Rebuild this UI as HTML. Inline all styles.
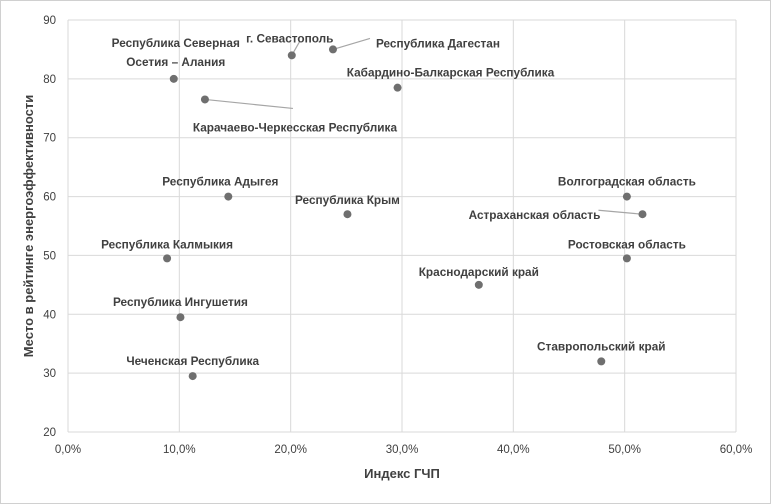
<!DOCTYPE html>
<html><head><meta charset="utf-8"><style>
html,body{margin:0;padding:0;background:#fff;}
svg{display:block;font-family:"Liberation Sans","DejaVu Sans",sans-serif;}
</style></head><body>
<svg id="chart" width="771" height="504" viewBox="0 0 771 504">
<rect x="0.5" y="0.5" width="770" height="503" fill="#fff" stroke="#d0d0d0"/>
<g id="grid"></g>
<g id="ticks"></g>
<g id="leaders"></g>
<g id="points"></g>
<g id="labels"></g>
<text x="402" y="478" text-anchor="middle" font-size="13" font-weight="bold" fill="#404040">Индекс ГЧП</text>
<text transform="translate(33,226) rotate(-90)" text-anchor="middle" font-size="13" font-weight="bold" fill="#404040">Место в рейтинге энергоэффективности</text>
</svg>
<script>
const regions=["Республика Северная|Осетия – Алания","Карачаево-Черкесская Республика","г. Севастополь","Республика Дагестан","Кабардино-Балкарская Республика","Республика Адыгея","Республика Крым","Республика Калмыкия","Республика Ингушетия","Чеченская Республика","Краснодарский край","Волгоградская область","Астраханская область","Ростовская область","Ставропольский край"];
const gchp=[9.5,12.3,20.1,23.8,29.6,14.4,25.1,8.9,10.1,11.2,36.9,50.2,51.6,50.2,47.9];
const rank=[80,76.5,84,85,78.5,60,57,49.5,39.5,29.5,45,60,57,49.5,32];
const xTicks=[0,10,20,30,40,50,60];
const yTicks=[20,30,40,50,60,70,80,90];
// label layout (offsets from point, in px) and leader lines
const labelOff=[[2,-37],[90,24],[-2,-21],[105,-10],[53,-19],[-8,-19],[0,-18],[0,-18],[0,-19],[0,-19],[0,-17],[0,-19],[-108,-3],[0,-18],[0,-19]];
const leaderOff={1:[88,9],2:[8,-14],3:[37,-11],12:[-44,-4]};
const X0=68,X1=736,Y0=432,Y1=20;
const xS=v=>X0+(v-0)/60*(X1-X0);
const yS=v=>Y0-(v-20)/70*(Y0-Y1);
const NS="http://www.w3.org/2000/svg";
function mk(t,a,p){const e=document.createElementNS(NS,t);for(const k in a)e.setAttribute(k,a[k]);p.appendChild(e);return e;}
const grid=document.getElementById('grid'),ticks=document.getElementById('ticks');
xTicks.forEach(t=>{const l=mk('line',{x1:xS(t),x2:xS(t),y1:Y1,y2:Y0,stroke:'#d9d9d9'},grid);

const tx=mk('text',{x:xS(t),y:Y0+21,'text-anchor':'middle','font-size':'11.5',fill:'#404040'},ticks);
tx.textContent=t.toFixed(1).replace('.',',')+'%';
});
yTicks.forEach(t=>{const l=mk('line',{x1:X0,x2:X1,y1:yS(t),y2:yS(t),stroke:'#d9d9d9'},grid);

const tx=mk('text',{x:X0-12,y:yS(t)+4,'text-anchor':'end','font-size':'11.5',fill:'#404040'},ticks);
tx.textContent=t;
});
const P=document.getElementById('points'),L=document.getElementById('labels'),LD=document.getElementById('leaders');
regions.forEach((r,i)=>{const px=xS(gchp[i]),py=yS(rank[i]);
if(leaderOff[i]){const o=leaderOff[i];const ln=mk('line',{x1:px,y1:py,x2:px+o[0],y2:py+o[1],stroke:'#a6a6a6','stroke-width':'1.2'},LD);
}
const c=mk('circle',{cx:px,cy:py,r:4,fill:'#6f6f6f'},P);

const lines=r.split('|');const o=labelOff[i];
lines.forEach((s,j)=>{const t=mk('text',{x:px+o[0],y:py+o[1]+j*19+(lines.length>1?5:8),'text-anchor':'middle','font-size':'11.8','font-weight':'bold',fill:'#404040'},L);
t.textContent=s;});});
</script>
</body></html>
